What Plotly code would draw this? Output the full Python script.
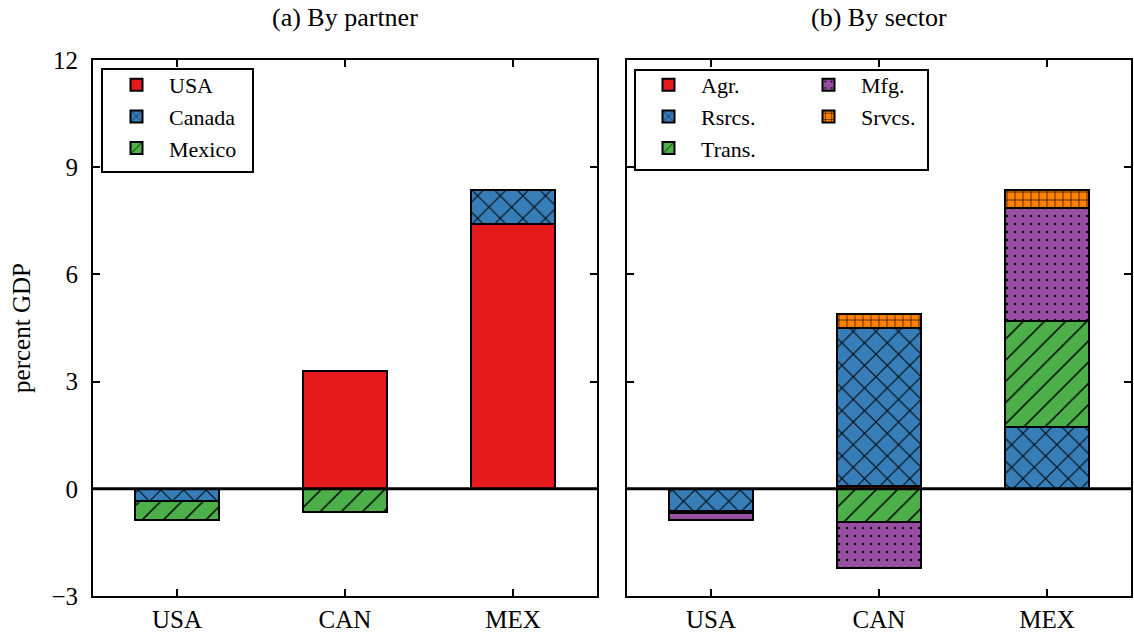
import plotly.graph_objects as go

# Categories (the three NAFTA economies)
countries = ["USA", "CAN", "MEX"]

# (a) Change by trading partner, percent of GDP
partner_names = ["USA", "Canada", "Mexico"]
partner_usa = [0.0, 3.31, 7.41]
partner_canada = [-0.35, 0.0, 0.95]
partner_mexico = [-0.53, -0.64, 0.0]

# (b) Change by sector, percent of GDP
sector_names = ["Agr.", "Rsrcs.", "Trans.", "Mfg.", "Srvcs."]
sector_agr = [-0.01, 0.08, 0.0]
sector_rsrcs = [-0.62, 4.41, 1.73]
sector_trans = [-0.05, -0.94, 2.98]
sector_mfg = [-0.19, -1.28, 3.15]
sector_srvcs = [0.0, 0.41, 0.50]

y_ticks = [-3, 0, 3, 6, 9, 12]

RED = "#e41a1c"
BLUE = "#377eb8"
GREEN = "#4daf4a"
PURPLE = "#984ea3"
ORANGE = "#ff7f00"

FONT = "Liberation Serif"

def pattern(shape, size, solidity):
    if not shape:
        return dict(shape="")
    return dict(shape=shape, size=size, solidity=solidity,
                fgcolor="black", fgopacity=1, fillmode="overlay")

styles = {
    "red": (RED, pattern("", 0, 0)),
    "blue": (BLUE, pattern("x", 16, 0.12)),
    "green": (GREEN, pattern("/", 15, 0.1)),
    "purple": (PURPLE, pattern(".", 8, 0.07)),
    "orange": (ORANGE, pattern("+", 8, 0.15)),
}

fig = go.Figure()

def add_bar(name, values, style, xaxis, yaxis, legend):
    color, pat = styles[style]
    fig.add_trace(go.Bar(
        x=countries, y=values, name=name, width=0.5,
        marker=dict(color=color, pattern=pat, line=dict(color="black", width=2)),
        xaxis=xaxis, yaxis=yaxis, legend=legend,
    ))

add_bar(partner_names[0], partner_usa, "red", "x", "y", "legend")
add_bar(partner_names[1], partner_canada, "blue", "x", "y", "legend")
add_bar(partner_names[2], partner_mexico, "green", "x", "y", "legend")

add_bar(sector_names[0], sector_agr, "red", "x2", "y2", "legend2")
add_bar(sector_names[1], sector_rsrcs, "blue", "x2", "y2", "legend2")
add_bar(sector_names[2], sector_trans, "green", "x2", "y2", "legend2")
add_bar(sector_names[3], sector_mfg, "purple", "x2", "y2", "legend3")
add_bar(sector_names[4], sector_srvcs, "orange", "x2", "y2", "legend3")

# Plot-area geometry in pixels (used for paper-coordinate placement)
W, H = 1134, 634
ML, MR, MT, MB = 93, 3, 60, 38
PW, PH = W - ML - MR, H - MT - MB

def px(x):
    return (x - ML) / PW

def py(y):
    return (H - MB - y) / PH

axis_common = dict(
    showline=True, linecolor="black", linewidth=2, mirror="ticks",
    ticks="inside", ticklen=7, tickwidth=1.5, tickcolor="black",
    showgrid=False, zeroline=False, automargin=False,
    tickfont=dict(family=FONT, size=25, color="black"),
)

legend_common = dict(
    xanchor="left", yanchor="top", bgcolor="rgba(0,0,0,0)", borderwidth=0,
    itemwidth=55, font=dict(family=FONT, size=22), traceorder="normal",
)

fig.update_layout(
    width=W, height=H,
    margin=dict(l=ML, r=MR, t=MT, b=MB),
    paper_bgcolor="white", plot_bgcolor="white",
    barmode="relative", bargap=0,
    font=dict(family=FONT, size=23, color="black"),
    xaxis=dict(domain=[0, 504 / PW], range=[-0.5, 2.5], anchor="y",
               ticklabelstandoff=0, **axis_common),
    xaxis2=dict(domain=[534 / PW, 1], range=[-0.5, 2.5], anchor="y2",
                ticklabelstandoff=0, **axis_common),
    yaxis=dict(range=[-3, 12], tickvals=y_ticks, anchor="x", ticklabelstandoff=8,
               title=dict(text="percent GDP", font=dict(family=FONT, size=25), standoff=14),
               **axis_common),
    yaxis2=dict(range=[-3, 12], tickvals=y_ticks, anchor="x2", ticklabelstandoff=8,
                matches="y", showticklabels=False, **axis_common),
    showlegend=True,
    legend=dict(x=px(104), y=py(64), **legend_common),
    legend2=dict(x=px(636), y=py(64), **legend_common),
    legend3=dict(x=px(796), y=py(64), **legend_common),
)

# Zero reference lines drawn over the bars
for xref, yref in (("x domain", "y"), ("x2 domain", "y2")):
    fig.add_shape(type="line", xref=xref, yref=yref, x0=0, x1=1, y0=0, y1=0,
                  line=dict(color="black", width=3), layer="above")

# Legend frames
fig.add_shape(type="rect", xref="paper", yref="paper",
              x0=px(102), x1=px(253), y0=py(172), y1=py(69),
              line=dict(color="black", width=2), fillcolor="white", layer="above")
fig.add_shape(type="rect", xref="paper", yref="paper",
              x0=px(635), x1=px(928), y0=py(170), y1=py(70),
              line=dict(color="black", width=2), fillcolor="white", layer="above")

# Panel titles
for text, cx in (("(a) By partner", 345), ("(b) By sector", 879)):
    fig.add_annotation(text=text, xref="paper", yref="paper",
                       x=px(cx), y=py(18), xanchor="center", yanchor="middle",
                       showarrow=False, font=dict(family=FONT, size=26, color="black"))

fig.write_html("out.html")
